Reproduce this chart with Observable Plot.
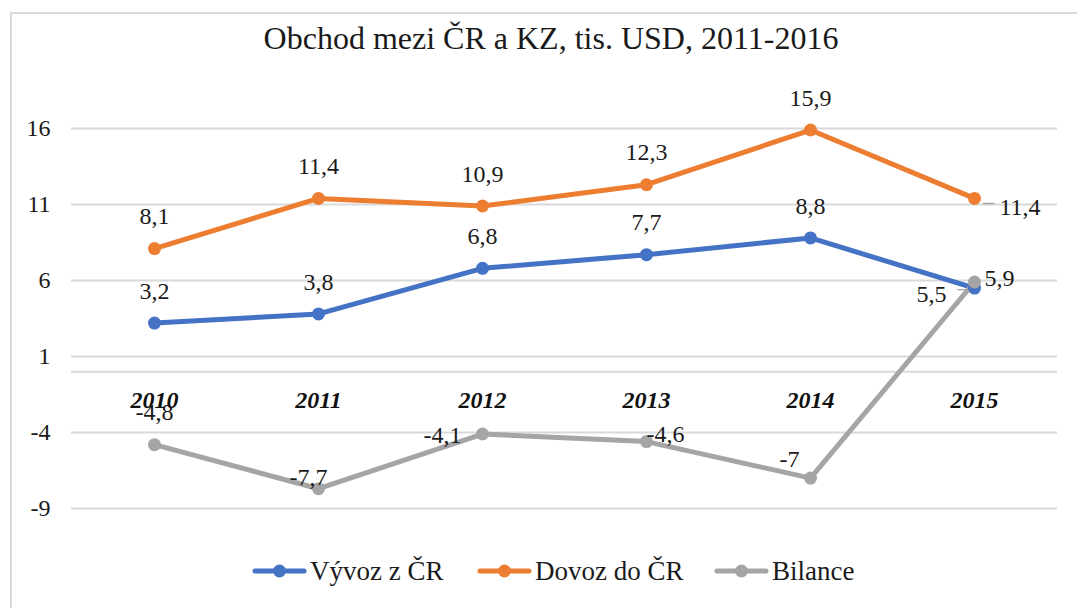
<!DOCTYPE html>
<html>
<head>
<meta charset="utf-8">
<script src="https://cdn.jsdelivr.net/npm/d3@7"></script>
<script src="https://cdn.jsdelivr.net/npm/@observablehq/plot@0.6"></script>
<style>
  html, body { margin: 0; padding: 0; background: #fff; overflow: hidden; }
  body { font-family: "Liberation Serif", "Times New Roman", serif; color: #222; width: 1077px; height: 608px; position: relative; }
  #frame { position: absolute; left: 10px; top: 12px; width: 1100px; height: 640px; border-top: 2px solid #d9d9d9; border-left: 2px solid #d9d9d9; }
  #title { position: absolute; left: 10px; width: 1082px; top: 20px; text-align: center; font-size: 32px; line-height: 36px; color: #1a1a1a; }
  #chart { position: absolute; left: 0; top: 60px; }
  #legend { position: absolute; top: 554px; left: 0; width: 1077px; height: 36px; font-family: "Liberation Serif", serif; font-size: 27px; line-height: 34px; color: #1a1a1a; }
  .item { position: absolute; top: 0; display: flex; align-items: center; white-space: nowrap; }
  .item svg { display: block; margin-right: 3px; }
</style>
</head>
<body>
<div id="frame"></div>
<div id="title">Obchod mezi ČR a KZ, tis. USD, 2011-2016</div>
<div id="chart"></div>
<div id="legend"></div>
<script>
// ---- data ----
const years = ["2010", "2011", "2012", "2013", "2014", "2015"];
const seriesNames = ["Vývoz z ČR", "Dovoz do ČR", "Bilance"];
const vyvoz = [3.2, 3.8, 6.8, 7.7, 8.8, 5.5];
const dovoz = [8.1, 11.4, 10.9, 12.3, 15.9, 11.4];
const bilance = [-4.8, -7.7, -4.1, -4.6, -7, 5.9];
const yTicks = [-9, -4, 1, 6, 11, 16];
const colors = ["#4472C4", "#ED7D31", "#A5A5A5"];

// ---- label placement (style, not data) ----
const above = {anchor: "middle", dx: 0, dy: -32};
const placement = [
  [above, above, above, above, above, {anchor: "end", dx: -28, dy: 6}],
  [above, above, above, above, above, {anchor: "start", dx: 25, dy: 9}],
  [above, {anchor: "middle", dx: -10, dy: -11}, {anchor: "end", dx: -21, dy: 1},
   {anchor: "start", dx: 0, dy: -7}, {anchor: "end", dx: -11, dy: -19}, {anchor: "start", dx: 10, dy: -4}]
];

const allValues = [vyvoz, dovoz, bilance];
const rows = [];
allValues.forEach((vals, si) => vals.forEach((v, i) => rows.push({series: seriesNames[si], si, i, year: years[i], value: v})));

const fmt = v => String(v).replace(".", ",");

// group labels by placement
const groups = new Map();
rows.forEach(r => {
  const p = placement[r.si][r.i];
  const key = p.anchor + "|" + p.dx + "|" + p.dy;
  if (!groups.has(key)) groups.set(key, {p, data: []});
  groups.get(key).data.push(r);
});
const serif = "'Liberation Serif', 'Times New Roman', serif";
const labelMarks = [...groups.values()].map(({p, data}) =>
  Plot.text(data, {x: "year", y: "value", text: d => fmt(d.value), textAnchor: p.anchor, dx: p.dx, dy: p.dy,
    fontSize: 24, fill: "#1a1a1a", fontFamily: serif}));

const last = years.length - 1;
const chart = Plot.plot({
  width: 1077,
  height: 470,
  marginLeft: 71,
  marginRight: 20,
  marginTop: 68,
  marginBottom: 22,
  style: {fontFamily: serif, background: "transparent"},
  x: {type: "point", domain: years, padding: 0.5, axis: null},
  y: {domain: [-9, 16], axis: null},
  color: {domain: seriesNames, range: colors},
  marks: [
    Plot.gridY(yTicks, {stroke: "#d9d9d9", strokeOpacity: 1, strokeWidth: 2}),
    Plot.ruleY([0], {stroke: "#d9d9d9", strokeWidth: 2}),
    Plot.axisY(yTicks, {tickSize: 0, tickPadding: 21, fontSize: 24, fill: "#1a1a1a", fontFamily: serif, label: null, tickFormat: d => String(d)}),
    Plot.text(years, {x: d => d, y: () => 0, dy: 29, fontSize: 24, fontWeight: "bold", fontStyle: "italic", fill: "#111", fontFamily: serif}),
    Plot.line(rows, {x: "year", y: "value", z: "series", stroke: "series", strokeWidth: 5, strokeLinejoin: "round", strokeLinecap: "round"}),
    Plot.dot(rows, {x: "year", y: "value", fill: "series", r: 6.5, stroke: null}),
    // leader lines for moved labels
    Plot.text(rows.filter(r => r.si === 1 && r.i === last), {x: "year", y: "value", text: () => "–", dx: 14, dy: 4, fontSize: 22, fill: "#A5A5A5", fontWeight: "bold", fontFamily: serif}),
    Plot.text(rows.filter(r => r.si === 0 && r.i === last), {x: "year", y: "value", text: () => "–", dx: -13, dy: 1, fontSize: 16, fill: "#A5A5A5", fontWeight: "bold", fontFamily: serif}),
    ...labelMarks
  ]
});
document.getElementById("chart").appendChild(chart);

// legend
const legend = document.getElementById("legend");
const legendX = [252, 477, 714];
seriesNames.forEach((name, i) => {
  const item = document.createElement("div");
  item.className = "item";
  item.style.left = legendX[i] + "px";
  item.innerHTML = `<svg width="55" height="16"><line x1="3" y1="8" x2="52" y2="8" stroke="${colors[i]}" stroke-width="5" stroke-linecap="round"/><circle cx="27.5" cy="8" r="6.5" fill="${colors[i]}"/></svg><span>${name}</span>`;
  legend.appendChild(item);
});
</script>
</body>
</html>
